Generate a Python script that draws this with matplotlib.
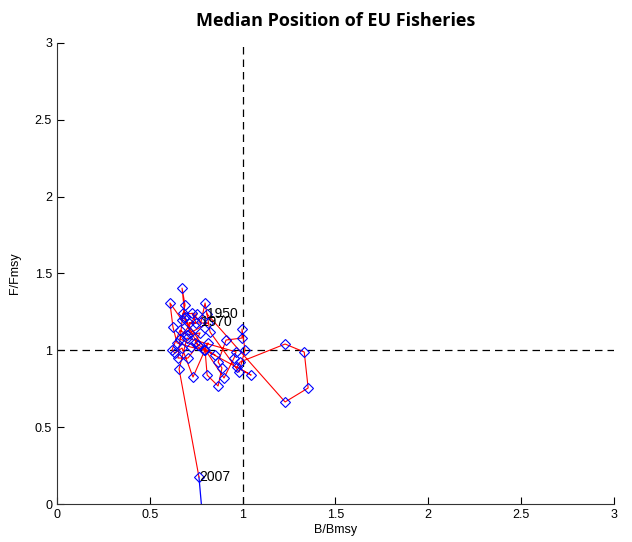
import numpy as np
import matplotlib.pyplot as plt

plt.rcParams['font.family'] = ['Liberation Sans', 'DejaVu Sans']

# median trajectory B/Bmsy, F/Fmsy (1950..2007)
b = [0.809, 1.229, 1.353, 1.332, 1.229, 0.987, 0.970, 1.046, 0.798, 0.809,
     0.868, 0.889, 0.868, 0.911, 0.997, 0.997, 1.013, 0.981, 0.825, 0.798,
     0.776, 0.728, 0.749, 0.712, 0.814, 0.717, 0.690, 0.674, 0.690, 0.674,
     0.609, 0.625, 0.647, 0.722, 0.792, 0.814, 0.733, 0.674, 0.636, 0.620,
     0.663, 0.701, 0.771, 0.744, 0.852, 0.663, 0.755, 0.679, 0.652, 0.706,
     0.760, 0.685, 0.900, 0.954, 0.965, 0.701, 0.658, 0.765]
f = [1.236, 0.664, 0.755, 0.989, 1.041, 0.924, 0.891, 0.839, 1.002, 0.839,
     0.768, 0.885, 0.924, 1.067, 1.080, 1.139, 1.002, 0.859, 1.119, 1.308,
     1.184, 1.243, 1.178, 1.178, 1.178, 1.113, 1.217, 1.405, 1.295, 1.197,
     1.308, 1.152, 1.048, 1.021, 1.002, 1.048, 0.826, 1.015, 0.982, 1.002,
     1.131, 1.100, 1.113, 1.048, 0.970, 1.074, 1.236, 1.243, 0.950, 0.950,
     1.035, 1.210, 0.820, 0.950, 0.990, 1.080, 0.878, 0.176]
years = np.arange(1950, 2008)
labelled = [1950, 1970, 2007]
proj_b = [0.765, 0.800]
proj_f = [0.176, -0.300]

fig = plt.figure(figsize=(6.32, 5.42), dpi=100)
ax = fig.add_axes([0.090, 0.0701, 0.8815, 0.8506])

ax.plot([0, 3], [1, 1], color='k', ls=(0, (6, 4)), lw=0.9)
ax.plot([1, 1], [0, 3], color='k', ls=(0, (6, 4)), lw=0.9)
ax.plot(proj_b, proj_f, color='b', lw=0.9)
ax.plot(b, f, color='r', lw=0.8)
ax.plot(b, f, ls='none', marker='D', ms=5.5, mfc='none', mec='b', mew=0.8)

for yr in labelled:
    i = list(years).index(yr)
    ax.text(b[i], f[i], str(yr), fontsize=10, va='center', ha='left')

ax.set_xlim(0, 3)
ax.set_ylim(0, 3)
ax.set_xticks(np.arange(0, 3.01, 0.5))
ax.set_yticks(np.arange(0, 3.01, 0.5))
ax.set_xticklabels(['0', '0.5', '1', '1.5', '2', '2.5', '3'])
ax.set_yticklabels(['0', '0.5', '1', '1.5', '2', '2.5', '3'])
ax.tick_params(direction='in', length=5, labelsize=9, width=0.8)
ax.spines['top'].set_visible(False)
ax.spines['right'].set_visible(False)
ax.spines['left'].set_color('#333333')
ax.spines['bottom'].set_color('#333333')
ax.set_xlabel('B/Bmsy', fontsize=9, labelpad=2)
ax.set_ylabel('F/Fmsy', fontsize=9, labelpad=10)
ax.set_title('Median Position of EU Fisheries', fontsize=13, fontweight='bold',
             family=['Open Sans'], pad=12)

fig.savefig('out.png', dpi=100)
